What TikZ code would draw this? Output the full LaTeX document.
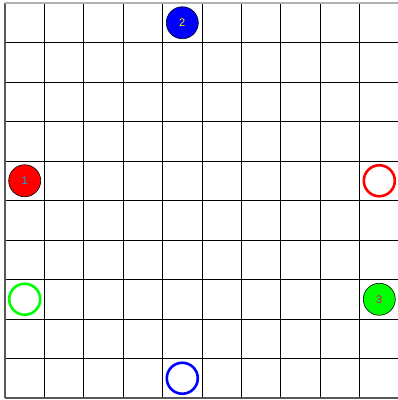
\documentclass[tikz,border=0pt]{standalone}
\usepackage{fontspec}
\setmainfont{Liberation Sans}
\begin{document}
\begin{tikzpicture}[x=1pt,y=-1pt,
  filled/.style={circle,draw=black,line width=0.6pt,minimum size=32pt,inner sep=0pt,font=\fontsize{11}{11}\selectfont},
  hollow/.style={circle,line width=2.6pt,minimum size=31pt,inner sep=0pt}]
\useasboundingbox (0,0) rectangle (398,400);
\fill[white] (0,0) rectangle (398,400);
\foreach \i in {0,...,10} {
  \draw[black,line width=1pt] ({5+39.4*\i},3) -- ({5+39.4*\i},398);
  \draw[black,line width=1pt] (5,{3+39.5*\i}) -- (399,{3+39.5*\i});
}
\draw[gray!70!black,line width=2pt] (5,3) -- (5,398);
\draw[gray!70!black,line width=2pt] (5,398) -- (399,398);
\draw[gray!60,line width=1.5pt] (5,3) -- (399,3);
\node[filled,fill=blue,text=yellow] (n2) at (182.3,22.75) {2};
\node[filled,fill=red,text=cyan] (n1) at (24.7,180.75) {1};
\node[filled,fill=green,text=magenta] (n3) at (379.3,299.25) {3};
\node[hollow,draw=red] (r2) at (379.3,180.75) {};
\node[hollow,draw=green] (g2) at (24.7,299.25) {};
\node[hollow,draw=blue] (b2) at (182.3,378.25) {};
\end{tikzpicture}
\end{document}
